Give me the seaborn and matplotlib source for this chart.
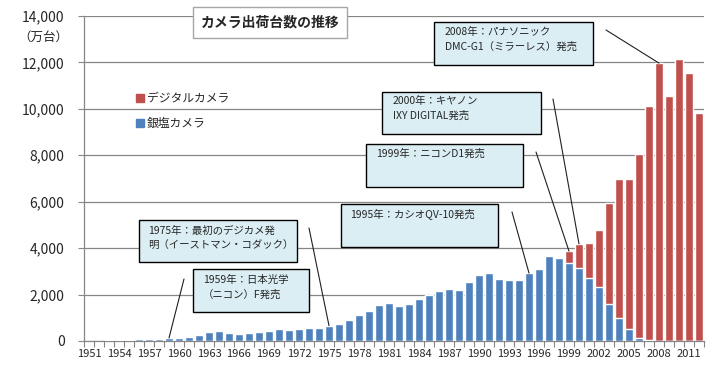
import numpy as np
import pandas as pd
import matplotlib
import matplotlib.pyplot as plt
import matplotlib.patches as mpatches
import seaborn as sns

matplotlib.use("Agg")

years = list(range(1951, 2013))

# 銀塩カメラ (万台)
silver = [0, 0, 50, 50, 50, 90, 90, 90, 130, 130,
          170, 270, 380, 450, 360, 310, 345, 400, 445, 515,
          475, 515, 575, 575, 660, 745, 905, 1120, 1290, 1550,
          1650, 1510, 1590, 1810, 1970, 2150, 2240, 2195, 2540, 2840,
          2925, 2670, 2625, 2625, 2925, 3100, 3655, 3570, 3370, 3155,
          2710, 2335, 1590, 1000, 515, 140, 40, 0, 0, 0,
          0, 0]

# デジタルカメラ (万台)
digital = [0] * 48 + [500, 1030, 1520, 2440, 4360, 5970, 6450, 7900,
                      10070, 11970, 10540, 12130, 11530, 9810]

tick_years = [str(y) for y in range(1951, 2013, 3)]

events = [
    ("1959年：日本光学\n（ニコン）F発売", 1959),
    ("1975年：最初のデジカメ発\n明（イーストマン・コダック）", 1975),
    ("1995年：カシオQV-10発売", 1995),
    ("1999年：ニコンD1発売", 1999),
    ("2000年：キヤノン\nIXY DIGITAL発売", 2000),
    ("2008年：パナソニック\nDMC-G1（ミラーレス）発売", 2008),
]

RED = "#C0504D"
BLUE = "#4F81BD"
GRID = "#868686"
BOXFILL = "#DAEEF3"

sns.set_theme(style="white")
plt.rcParams["font.family"] = ["Noto Sans CJK JP", "DejaVu Sans"]

W, H = 721, 370
df = pd.DataFrame({"year": [str(y) for y in years],
                   "silver": silver, "digital": digital})
df["total"] = df["silver"] + df["digital"]

fig = plt.figure(figsize=(W / 100, H / 100), dpi=100)
ax = fig.add_axes([84 / W, (H - 341) / H, 620 / W, 325 / H])

sns.barplot(data=df, x="year", y="total", color=RED, saturation=1,
            width=0.84, ax=ax, zorder=2)
sns.barplot(data=df, x="year", y="silver", color=BLUE, saturation=1,
            width=0.84, ax=ax, zorder=3)

ax.set_xlim(-0.5, len(years) - 0.5)
ax.set_ylim(0, 14000)
ax.set_yticks(range(0, 14001, 2000))
ax.set_yticklabels([f"{v:,}" for v in range(0, 14001, 2000)], fontsize=10)
ax.set_xticks([years.index(int(t)) for t in tick_years])
ax.set_xticklabels(tick_years, fontsize=8)
ax.set_xticks(np.arange(-0.5, len(years), 1), minor=True)
ax.tick_params(axis="x", which="major", length=0, pad=6)
ax.tick_params(axis="x", which="minor", length=4, color=GRID, width=0.8,
               direction="out", bottom=True)
ax.tick_params(axis="y", length=4, color=GRID, width=0.8, direction="out",
               left=True, pad=10)
ax.set_xlabel("")
ax.set_ylabel("")
ax.yaxis.grid(True, color=GRID, linewidth=0.9)
ax.set_axisbelow(True)
for side in ["top", "right"]:
    ax.spines[side].set_visible(False)
for side in ["left", "bottom"]:
    ax.spines[side].set_color(GRID)
    ax.spines[side].set_linewidth(0.9)

fig.text(43 / W, 1 - 37 / H, "（万台）", fontsize=9, ha="center", va="center")

# legend
handles = [mpatches.Patch(color=RED, label="デジタルカメラ"),
           mpatches.Patch(color=BLUE, label="銀塩カメラ")]
fig.legend(handles=handles, loc="upper left", frameon=False,
           bbox_to_anchor=(130 / W, 1 - 86 / H), fontsize=8.5,
           handlelength=0.65, handleheight=0.65, handletextpad=0.3,
           labelspacing=1.0, borderpad=0)


def box(x0, y0, x1, y1, face, edge, lw=1.0):
    r = mpatches.Rectangle((x0 / W, 1 - y1 / H), (x1 - x0) / W, (y1 - y0) / H,
                           transform=fig.transFigure, facecolor=face,
                           edgecolor=edge, linewidth=lw, zorder=5)
    fig.patches.append(r)


# title
box(193, 7, 347, 38, "white", "#A6A6A6")
fig.text(270 / W, 1 - 22 / H, "カメラ出荷台数の推移", fontsize=10,
         fontweight="bold", ha="center", va="center", zorder=6)

# callout boxes: rectangle, text anchor, line start
layout = {
    1959: ((193, 269, 309, 312), (203, 275), (184, 279)),
    1975: ((139, 220, 297, 262), (148, 226), (309, 228)),
    1995: ((341, 204, 498, 247), (350, 209), (512, 212)),
    1999: ((366, 144, 523, 187), (376, 149), (536, 152)),
    2000: ((382, 92, 541, 134), (393, 96), (553, 99)),
    2008: ((434, 22, 593, 65), (445, 27), (606, 30)),
}

for label, yr in events:
    (x0, y0, x1, y1), (tx, ty), (lx, ly) = layout[yr]
    i = years.index(yr)
    ax.annotate("", xy=(i, df["total"][i]), xycoords="data",
                xytext=(lx, H - ly), textcoords="figure pixels",
                arrowprops=dict(arrowstyle="-", color="#202020", lw=0.8,
                                shrinkA=0, shrinkB=0),
                annotation_clip=False, zorder=4)
    box(x0, y0, x1, y1, BOXFILL, "black", 1.0)
    fig.text(tx / W, 1 - ty / H, label, fontsize=7.5, ha="left", va="top",
             linespacing=1.6, zorder=6)

fig.savefig("out.png", dpi=100)
